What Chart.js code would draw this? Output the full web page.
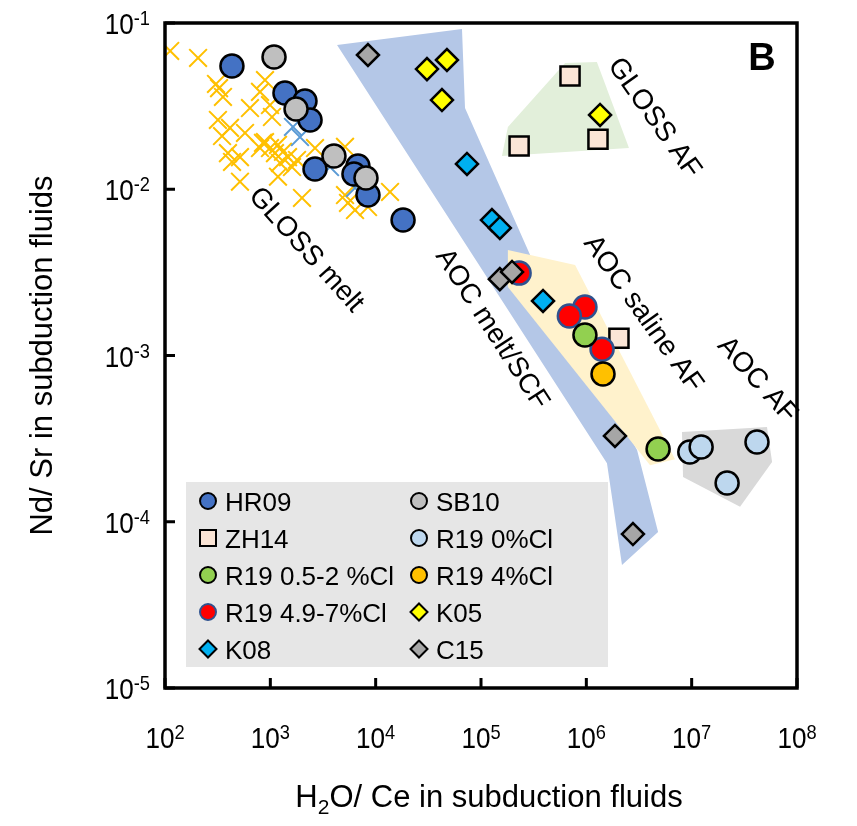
<!DOCTYPE html>
<html>
<head>
<meta charset="utf-8">
<script src="https://cdn.jsdelivr.net/npm/chart.js@4.4.0/dist/chart.umd.min.js"></script>
<style>
  body { margin: 0; background: #fff; }
  #wrap { width: 857px; height: 826px; }
</style>
</head>
<body>
<div id="wrap"><canvas id="myChart"></canvas></div>
<script>
// ---- data (H2O/Ce vs Nd/Sr) ----
const hr09X = [432, 1377, 2133, 2383, 2655, 6790, 6220, 8450, 18200];
const hr09Y = [0.0551, 0.0379, 0.0340, 0.0261, 0.01324, 0.0138, 0.01236, 0.00923, 0.00653];

const sb10X = [1084, 1754, 4018, 8090];
const sb10Y = [0.0624, 0.0304, 0.01585, 0.0117];

const zh14X = [7.0e5, 2.3e5, 1.29e6, 2.04e6];
const zh14Y = [0.048, 0.0182, 0.020, 0.00127];

const r19Cl0X = [9.6e6, 1.23e7, 4.17e7, 2.17e7];
const r19Cl0Y = [2.63e-4, 2.82e-4, 3.02e-4, 1.71e-4];

const r19Cl05X = [9.7e5, 4.8e6];
const r19Cl05Y = [1.33e-3, 2.74e-4];

const r19Cl4X = [1.44e6];
const r19Cl4Y = [7.75e-4];

const r19Cl49X = [2.3e5, 9.7e5, 6.9e5, 1.41e6];
const r19Cl49Y = [3.13e-3, 1.96e-3, 1.73e-3, 1.09e-3];

const k05X = [30700, 47500, 42600, 1.35e6];
const k05Y = [0.0528, 0.0599, 0.0344, 0.0280];

const k08X = [73600, 127000, 151000, 388000];
const k08Y = [0.0142, 0.00653, 0.00585, 0.00213];

const c15X = [8450, 151000, 197000, 1.87e6, 2.77e6];
const c15Y = [0.0642, 0.00288, 0.00318, 3.28e-4, 8.43e-5];

// GLOSS melt crosses
const glossX = [112, 206, 305, 326, 355, 890, 798, 641, 993, 1037, 318, 414, 348, 396, 515, 890, 798, 1182, 1107,
  575, 852, 993, 1319, 1472, 1792, 1235, 1606, 1182, 515, 433, 2656, 5117, 1998, 5117, 5463, 6367, 8459, 13690];
const glossY = [0.0679, 0.0616, 0.0430, 0.0406, 0.0359, 0.0454, 0.0385, 0.0308, 0.0321, 0.0272, 0.0261, 0.0234,
  0.0209, 0.0165, 0.0156, 0.0192, 0.0177, 0.0185, 0.0165, 0.0218, 0.0190, 0.0177, 0.0168, 0.0156, 0.0150, 0.0144,
  0.0136, 0.0119, 0.0111, 0.0146, 0.0177, 0.0180, 0.00886, 0.00923, 0.00827, 0.0075, 0.00782, 0.00963];
const glossBlueX = [1641, 1912, 3686, 6367];
const glossBlueY = [0.0237, 0.0206, 0.0136, 0.01018];

// field outlines
const aocMeltX = [4300, 66000, 70500, 292000, 3.03e6, 4.8e6, 2.18e6, 1.57e6];
const aocMeltY = [0.0738, 0.092, 0.0308, 0.00403, 2.70e-4, 8.67e-5, 5.5e-5, 2.25e-4];
const glossAfX = [180000, 628000, 1.26e6, 2.54e6, 158000];
const glossAfY = [0.0237, 0.0574, 0.0582, 0.0177, 0.01585];
const salineX = [180000, 782000, 6.95e6, 4.03e6, 180000];
const salineY = [0.00431, 0.0035, 2.38e-4, 2.19e-4, 0.00258];
const aocAfX = [8.09e6, 5.19e7, 5.8e7, 2.88e7, 8.28e6];
const aocAfY = [3.47e-4, 3.72e-4, 2.29e-4, 1.23e-4, 1.86e-4];

// field names
const fieldNames = ['GLOSS melt', 'AOC melt/SCF', 'AOC saline AF', 'GLOSS AF', 'AOC AF'];
const fieldX = [2180, 127000, 3.45e6, 4.4e6, 4.17e7];
const fieldY = [0.00431, 0.00144, 0.00178, 0.0268, 7.13e-4];
const fieldAngle = [48, 57, 54.5, 54.5, 48];

const xTickExp = [2, 3, 4, 5, 6, 7, 8];
const yTickExp = [-5, -4, -3, -2, -1];

const legendCol1 = ['HR09', 'ZH14', 'R19 0.5-2 %Cl', 'R19 4.9-7%Cl', 'K08'];
const legendCol2 = ['SB10', 'R19 0%Cl', 'R19 4%Cl', 'K05', 'C15'];

const FONT = '"Liberation Sans", Arial, sans-serif';

function pts(xs, ys) {
  return xs.map(function (x, i) { return {x: x, y: ys[i]}; });
}
function closed(xs, ys) {
  const p = pts(xs, ys);
  p.push({x: xs[0], y: ys[0]});
  return p;
}

function marker(label, xs, ys, style, fill, order, border) {
  const r = style === 'rect' ? 13.5 : (style === 'rectRot' ? 11 : 11.5);
  return {
    label: label, data: pts(xs, ys), pointStyle: style, pointRadius: r, pointHoverRadius: r,
    backgroundColor: fill, borderColor: border || '#000', borderWidth: 2.5, order: order
  };
}
function field(xs, ys, color, order) {
  return {
    label: '', data: closed(xs, ys), showLine: true, fill: 'shape', backgroundColor: color,
    borderColor: 'rgba(0,0,0,0)', borderWidth: 0, pointRadius: 0, pointHoverRadius: 0, tension: 0, order: order
  };
}

const datasets = [
  field(aocMeltX, aocMeltY, '#B4C7E7', 40),
  field(salineX, salineY, '#FFF2CC', 39),
  field(glossAfX, glossAfY, '#E2EFDA', 38),
  field(aocAfX, aocAfY, '#D9D9D9', 37),
  {label: '', data: pts(glossX, glossY), pointStyle: 'crossRot', pointRadius: 12.5, borderColor: '#FFC000',
    borderWidth: 2, order: 30},
  {label: '', data: pts(glossBlueX, glossBlueY), pointStyle: 'crossRot', pointRadius: 12.5, borderColor: '#5B9BD5',
    borderWidth: 2, order: 29},
  marker('ZH14', zh14X, zh14Y, 'rect', '#FBE5D6', 12),
  marker('R19 4.9-7%Cl', r19Cl49X, r19Cl49Y, 'circle', '#FF0000', 11, '#2F528F'),
  marker('R19 0.5-2 %Cl', r19Cl05X, r19Cl05Y, 'circle', '#92D050', 10),
  marker('R19 4%Cl', r19Cl4X, r19Cl4Y, 'circle', '#FFC000', 9),
  marker('R19 0%Cl', r19Cl0X, r19Cl0Y, 'circle', '#BDD7EE', 8),
  marker('HR09', hr09X, hr09Y, 'circle', '#4472C4', 7),
  marker('SB10', sb10X, sb10Y, 'circle', '#BFBFBF', 6),
  marker('K05', k05X, k05Y, 'rectRot', '#FFFF00', 5),
  marker('K08', k08X, k08Y, 'rectRot', '#00B0F0', 4),
  marker('C15', c15X, c15Y, 'rectRot', '#A6A6A6', 3)
];

function scaledText(ctx, txt, x, y, sx) {
  ctx.save();
  ctx.translate(x, y);
  ctx.scale(sx, 1);
  ctx.fillText(txt, 0, 0);
  ctx.restore();
}

function legendMark(ctx, ds, x, y) {
  ctx.save();
  ctx.fillStyle = ds.backgroundColor;
  ctx.strokeStyle = ds.borderColor;
  ctx.lineWidth = 2;
  ctx.beginPath();
  if (ds.pointStyle === 'circle') {
    ctx.arc(x, y, 8, 0, Math.PI * 2);
  } else if (ds.pointStyle === 'rect') {
    ctx.rect(x - 8, y - 8, 16, 16);
  } else {
    ctx.moveTo(x, y - 8.5); ctx.lineTo(x + 8.5, y); ctx.lineTo(x, y + 8.5); ctx.lineTo(x - 8.5, y);
    ctx.closePath();
  }
  ctx.fill();
  ctx.stroke();
  ctx.restore();
}

const decorPlugin = {
  id: 'decor',
  afterDatasetsDraw: function (chart) {
    const ctx = chart.ctx;
    const a = chart.chartArea;
    const xs = chart.scales.x, ys = chart.scales.y;

    // field names
    ctx.save();
    ctx.fillStyle = '#000';
    ctx.font = '28px ' + FONT;
    ctx.textAlign = 'center';
    ctx.textBaseline = 'middle';
    fieldNames.forEach(function (name, i) {
      ctx.save();
      ctx.translate(xs.getPixelForValue(fieldX[i]), ys.getPixelForValue(fieldY[i]));
      ctx.rotate(fieldAngle[i] * Math.PI / 180);
      ctx.fillText(name, 0, 0);
      ctx.restore();
    });
    ctx.font = 'bold 38px ' + FONT;
    ctx.fillText('B', a.right - 35, a.top + 37);
    ctx.restore();

    // legend box
    ctx.save();
    ctx.fillStyle = '#E6E6E6';
    ctx.fillRect(a.left + 21, 482, 422, 185);
    ctx.font = '26px ' + FONT;
    ctx.textBaseline = 'alphabetic';
    ctx.textAlign = 'left';
    [legendCol1, legendCol2].forEach(function (col, c) {
      col.forEach(function (lab, r) {
        const ds = datasets.find(function (d) { return d.label === lab; });
        const y = 501 + r * 37;
        const mx = c === 0 ? 208 : 419;
        legendMark(ctx, ds, mx, y);
        ctx.fillStyle = '#000';
        ctx.fillText(lab, mx + 17, y + 9.5);
      });
    });
    ctx.restore();

    // frame and inward ticks
    ctx.save();
    ctx.strokeStyle = '#000';
    ctx.lineWidth = 3.5;
    ctx.strokeRect(a.left, a.top, a.right - a.left, a.bottom - a.top);
    ctx.lineWidth = 3;
    ctx.beginPath();
    xTickExp.forEach(function (e) {
      const px = xs.getPixelForValue(Math.pow(10, e));
      ctx.moveTo(px, a.bottom); ctx.lineTo(px, a.bottom - 10);
    });
    yTickExp.forEach(function (e) {
      const py = ys.getPixelForValue(Math.pow(10, e));
      ctx.moveTo(a.left, py); ctx.lineTo(a.left + 10, py);
    });
    ctx.stroke();

    // tick labels with superscript exponents
    const S = 0.87;
    ctx.fillStyle = '#000';
    ctx.textAlign = 'left';
    ctx.textBaseline = 'alphabetic';
    xTickExp.forEach(function (e) {
      const px = xs.getPixelForValue(Math.pow(10, e));
      ctx.font = '30px ' + FONT;
      const w10 = ctx.measureText('10').width * S;
      ctx.font = '21px ' + FONT;
      const ws = ctx.measureText(String(e)).width * S;
      const x0 = px - (w10 + ws) / 2;
      ctx.font = '30px ' + FONT;
      scaledText(ctx, '10', x0, a.bottom + 60, S);
      ctx.font = '21px ' + FONT;
      scaledText(ctx, String(e), x0 + w10, a.bottom + 51, S);
    });
    yTickExp.forEach(function (e) {
      const py = ys.getPixelForValue(Math.pow(10, e));
      ctx.font = '21px ' + FONT;
      const ws = ctx.measureText(String(e)).width * S;
      ctx.font = '30px ' + FONT;
      const w10 = ctx.measureText('10').width * S;
      const x1 = a.left - 15;
      scaledText(ctx, '10', x1 - ws - w10, py + 11, S);
      ctx.font = '21px ' + FONT;
      scaledText(ctx, String(e), x1 - ws, py + 2, S);
    });

    // axis titles
    ctx.font = '31px ' + FONT;
    const t1 = 'H', t2 = '2', t3 = 'O/ Ce in subduction fluids';
    const w1 = ctx.measureText(t1).width, w3 = ctx.measureText(t3).width;
    ctx.font = '21px ' + FONT;
    const w2 = ctx.measureText(t2).width;
    let tx = (a.left + a.right) / 2 + 8 - (w1 + w2 + w3) / 2;
    const ty = 807;
    ctx.font = '31px ' + FONT;
    ctx.fillText(t1, tx, ty);
    ctx.font = '21px ' + FONT;
    ctx.fillText(t2, tx + w1, ty + 7);
    ctx.font = '31px ' + FONT;
    ctx.fillText(t3, tx + w1 + w2, ty);

    ctx.save();
    ctx.translate(52, (a.top + a.bottom) / 2);
    ctx.rotate(-Math.PI / 2);
    ctx.textAlign = 'center';
    ctx.fillText('Nd/ Sr in subduction fluids', 0, 0);
    ctx.restore();
    ctx.restore();
  }
};

new Chart(document.getElementById('myChart'), {
  type: 'scatter',
  data: {datasets: datasets},
  options: {
    responsive: true,
    maintainAspectRatio: false,
    animation: false,
    layout: {padding: {left: 165, right: 60, top: 23, bottom: 138}},
    scales: {
      x: {type: 'logarithmic', min: 1e2, max: 1e8, display: false},
      y: {type: 'logarithmic', min: 1e-5, max: 1e-1, display: false}
    },
    plugins: {
      legend: {display: false},
      tooltip: {enabled: false}
    }
  },
  plugins: [decorPlugin]
});
</script>
</body>
</html>
